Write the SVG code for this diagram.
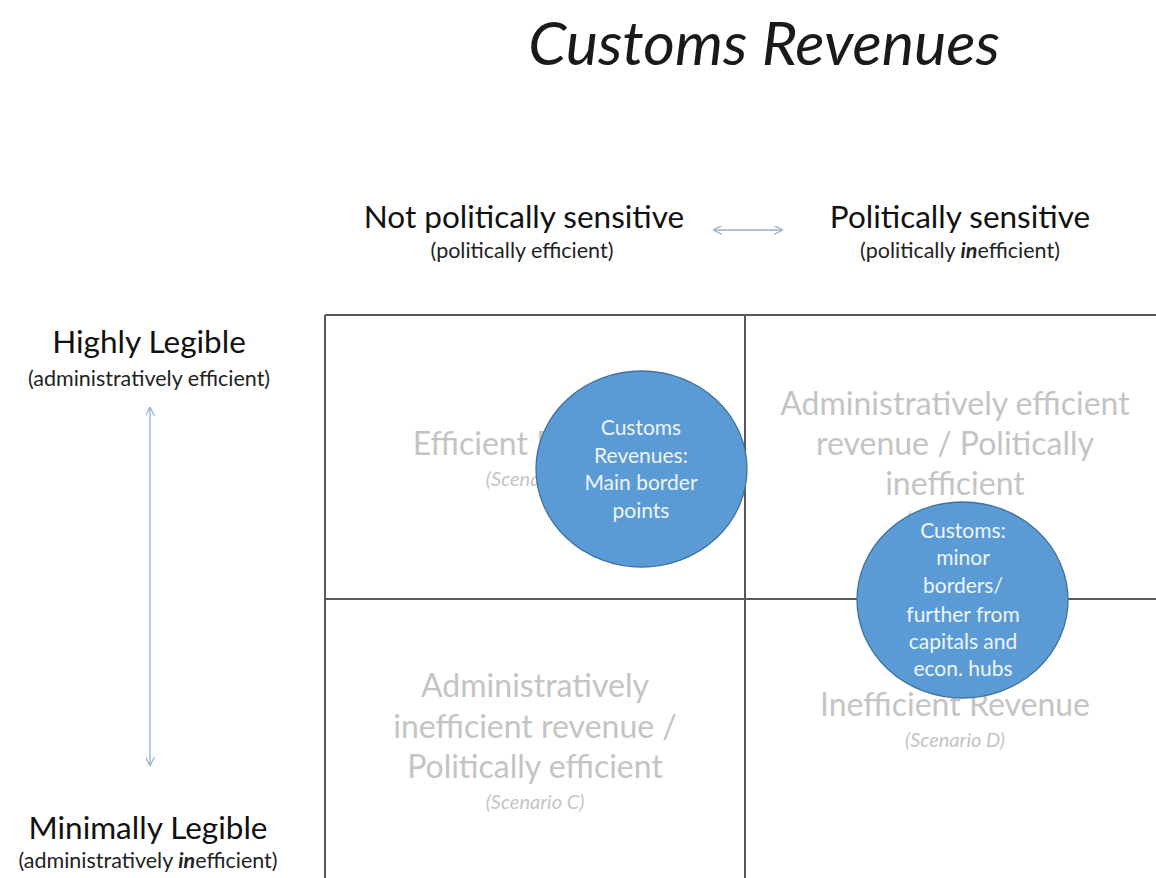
<svg xmlns="http://www.w3.org/2000/svg" width="1156" height="878" viewBox="0 0 1156 878">
<style>
text{font-family:Lato,"Open Sans","Liberation Sans",sans-serif;text-anchor:middle}
.title{font-size:61px;font-style:italic;fill:#1a1a1a}
.hd{font-size:31.5px;fill:#111}
.sub{font-size:21.5px;fill:#222}
.q{font-size:32px;fill:#c4c4c4}
.sc{font-size:20px;font-style:italic;fill:#c4c4c4}
.ct{font-size:21px;fill:#eef4fb}
.grid{stroke:#595959;stroke-width:2;fill:none}
.ax{stroke:#8fb0cf;stroke-width:1.3;fill:none}
.bub{fill:#5b9bd5;stroke:#41719c;stroke-width:1.3}
</style>
<defs>
<marker id="ah" viewBox="0 0 10 10" refX="9" refY="5" markerWidth="9" markerHeight="9" orient="auto-start-reverse" markerUnits="userSpaceOnUse">
<path d="M0,0 L10,5 L0,10" fill="none" stroke="#8fb0cf" stroke-width="1.3"/>
</marker>
</defs>
<rect width="1156" height="878" fill="#fff"/>
<g id="title"><text class="title" x="764" y="65">Customs Revenues</text></g>
<g id="header-left"><text class="hd" x="524" y="228">Not politically sensitive</text><text class="sub" x="522" y="258">(politically efficient)</text></g>
<g id="header-right"><text class="hd" x="960" y="228">Politically sensitive</text><text class="sub" x="960" y="258">(politically <tspan font-weight="bold" font-style="italic">in</tspan>efficient)</text></g>
<g id="label-top"><text class="hd" x="149" y="353">Highly Legible</text><text class="sub" x="149" y="386">(administratively efficient)</text></g>
<g id="label-bottom"><text class="hd" x="148" y="839">Minimally Legible</text><text class="sub" x="148" y="868">(administratively <tspan font-weight="bold" font-style="italic">in</tspan>efficient)</text></g>
<g id="grid">
<line class="grid" x1="325" y1="315" x2="1160" y2="315"/>
<line class="grid" x1="325" y1="599" x2="1160" y2="599"/>
<line class="grid" x1="325" y1="315" x2="325" y2="880"/>
<line class="grid" x1="745" y1="315" x2="745" y2="880"/>
</g>
<g id="quadrant-a"><text class="q" x="535" y="455">Efficient Revenue</text><text class="sc" x="535" y="486">(Scenario A)</text></g>
<g id="quadrant-b"><text class="q" x="955" y="415">Administratively efficient</text><text class="q" x="955" y="455">revenue / Politically</text><text class="q" x="955" y="495">inefficient</text><text class="sc" x="955" y="526">(Scenario B)</text></g>
<g id="quadrant-c"><text class="q" x="535" y="697">Administratively</text><text class="q" x="535" y="738">inefficient revenue /</text><text class="q" x="535" y="778">Politically efficient</text><text class="sc" x="535" y="809">(Scenario C)</text></g>
<g id="quadrant-d"><text class="q" x="955" y="716">Inefficient Revenue</text><text class="sc" x="955" y="747">(Scenario D)</text></g>
<g id="bubble-main"><ellipse class="bub" cx="641.5" cy="469" rx="105.5" ry="98"/>
<text class="ct" x="641" y="435">Customs</text><text class="ct" x="641" y="463">Revenues:</text><text class="ct" x="641" y="490">Main border</text><text class="ct" x="641" y="518">points</text></g>
<g id="bubble-minor"><ellipse class="bub" cx="962.5" cy="600" rx="105.5" ry="98"/>
<text class="ct" x="963" y="538">Customs:</text><text class="ct" x="963" y="565">minor</text><text class="ct" x="963" y="593">borders/</text><text class="ct" x="963" y="622">further from</text><text class="ct" x="963" y="649">capitals and</text><text class="ct" x="963" y="676">econ. hubs</text></g>
<g id="connectors">
<line class="ax" x1="714" y1="230" x2="782" y2="230" marker-start="url(#ah)" marker-end="url(#ah)"/>
<line class="ax" x1="150" y1="408" x2="150" y2="765" marker-start="url(#ah)" marker-end="url(#ah)"/>
</g>
</svg>
